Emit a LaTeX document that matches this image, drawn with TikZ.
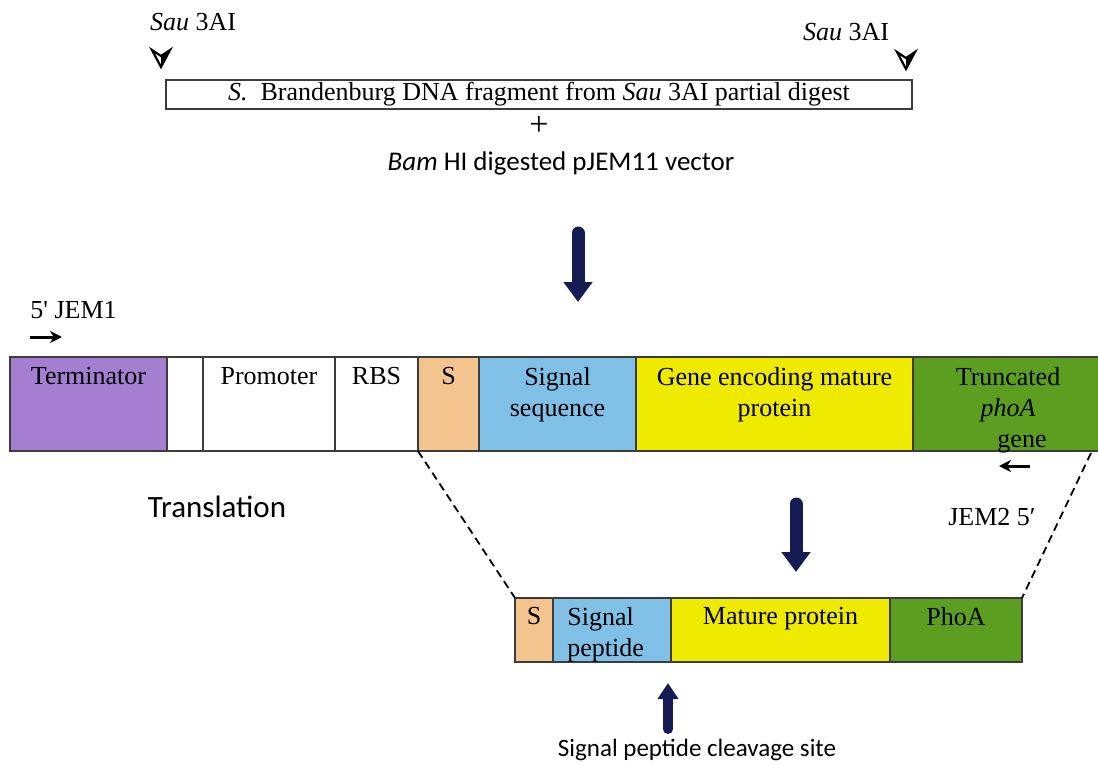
\documentclass[tikz,border=0pt]{standalone}
\usepackage{fontspec}
\setmainfont{Liberation Serif}
\newfontfamily\calfont{Carlito}
\usetikzlibrary{arrows.meta,positioning,calc}

\definecolor{termpurple}{RGB}{164,126,208}
\definecolor{stan}{RGB}{244,196,142}
\definecolor{sigblue}{RGB}{128,192,230}
\definecolor{geneyellow}{RGB}{238,234,0}
\definecolor{phoagreen}{RGB}{92,158,32}
\definecolor{arrownavy}{RGB}{22,27,84}
\definecolor{edgegrey}{RGB}{60,60,60}

\tikzset{
  seg/.style={draw=edgegrey, line width=0.7pt, inner sep=0pt, outer sep=0pt, minimum height=47pt},
  pseg/.style={seg, minimum height=32pt},
  lbl/.style={inner sep=1pt, font=\fontsize{13}{15.5}\selectfont, align=center},
  bigarrow/.style={draw=arrownavy, line width=6.5pt, line cap=round, -{Triangle[width=14pt,length=10pt]}},
  smallarrow/.style={draw=arrownavy, line width=5pt, line cap=round, -{Triangle[width=10pt,length=8pt]}},
  primer/.style={line width=1.5pt, -{Stealth[length=6pt,width=6pt]}},
  cutline/.style={line width=0.9pt, dash pattern=on 4pt off 2.5pt},
  cutsite/.pic={
    \fill (0,-2) -- (9,-8) -- (0,9) -- cycle;
    \draw[line width=1.1pt, line join=miter] (-9,-8) -- (0,9) -- (9,-8) -- (0,-2) -- cycle;
  }
}

\begin{document}
\begin{tikzpicture}[x=0.5pt,y=-0.5pt]
  \useasboundingbox (0,0) rectangle (1098,765);

  % cloned fragment
  \node[lbl] (sau1) at (193,22) {\textit{Sau} 3AI};
  \node[lbl] (sau2) at (846,32) {\textit{Sau} 3AI};
  \pic at (161,58) {cutsite};
  \pic at (906,60) {cutsite};
  \node[draw=edgegrey, line width=0.7pt, minimum width=373pt, minimum height=14.5pt,
        inner sep=0pt, font=\fontsize{13}{15.5}\selectfont] (frag) at (539,94.5)
        {\textit{S.}\ \ Brandenburg DNA fragment from \textit{Sau} 3AI partial digest};
  \node[inner sep=1pt, font=\fontsize{17}{18}\selectfont] (plus) at (539,126) {+};
  \node[inner sep=1pt, font=\calfont\fontsize{13.5}{16}\selectfont] (vec) at (561,163)
        {\textit{Bam} HI digested pJEM11 vector};

  \coordinate (a1s) at (578,233);
  \coordinate (a1e) at (578,302);
  \draw[bigarrow] (a1s) -- (a1e);

  % fusion construct
  \node[seg, fill=termpurple, minimum width=78.5pt, anchor=north west] (term) at (10,357) {};
  \node[seg, fill=white, minimum width=18pt, right=0pt of term] (gap) {};
  \node[seg, fill=white, minimum width=66pt, right=0pt of gap] (prom) {};
  \node[seg, fill=white, minimum width=41.5pt, right=0pt of prom] (rbs) {};
  \node[seg, fill=stan, minimum width=30.5pt, right=0pt of rbs] (sbox) {};
  \node[seg, fill=sigblue, minimum width=78.5pt, right=0pt of sbox] (sigseq) {};
  \node[seg, fill=geneyellow, minimum width=138.5pt, right=0pt of sigseq] (gene) {};
  \node[seg, fill=phoagreen, minimum width=95pt, right=0pt of gene] (phoa) {};

  \node[lbl, below=4pt of term.north] (term-l) {Terminator};
  \node[lbl, below=4pt of prom.north] (prom-l) {Promoter};
  \node[lbl, below=4pt of rbs.north] (rbs-l) {RBS};
  \node[lbl, below=4pt of sbox.north] (sbox-l) {S};
  \node[lbl, below=4pt of sigseq.north] (sigseq-l) {Signal\\sequence};
  \node[lbl, below=4pt of gene.north] (gene-l) {Gene encoding mature\\protein};
  \node[lbl, below=4pt of phoa.north] (phoa-l) {Truncated\\\textit{phoA}\\\hspace*{14pt}gene};

  \node[lbl, anchor=west] (jem1) at (28,310) {5\textquotesingle\ JEM1};
  \coordinate (p1s) at (30,337);
  \coordinate (p1e) at (62,337);
  \draw[primer] (p1s) -- (p1e);

  \node[lbl] (jem2) at (992,517) {JEM2 5′};
  \coordinate (p2s) at (1030,466);
  \coordinate (p2e) at (999,466);
  \draw[primer] (p2s) -- (p2e);

  \node[inner sep=1pt, font=\calfont\fontsize{15.5}{18}\selectfont] (transl) at (217,507) {Translation};

  \coordinate (a2s) at (796,504);
  \coordinate (a2e) at (796,572);
  \draw[bigarrow] (a2s) -- (a2e);

  % fusion protein
  \node[pseg, fill=stan, minimum width=19pt, anchor=north west] (ps) at (515,598) {};
  \node[pseg, fill=sigblue, minimum width=59pt, right=0pt of ps] (pep) {};
  \node[pseg, fill=geneyellow, minimum width=109.5pt, right=0pt of pep] (mat) {};
  \node[pseg, fill=phoagreen, minimum width=66pt, right=0pt of mat] (pho) {};

  \node[lbl, below=3.5pt of ps.north] (ps-l) {S};
  \node[lbl, align=left, below right=3.5pt and 6pt of pep.north west] (pep-l) {Signal\\peptide};
  \node[lbl, below=3.5pt of mat.north] (mat-l) {Mature protein};
  \node[lbl, below=3.5pt of pho.north] (pho-l) {PhoA};

  \coordinate (cutR) at (1091,453);
  \draw[cutline] (sbox.south west) -- (ps.north west);
  \draw[cutline] (cutR) -- (pho.north east);

  \coordinate (a3s) at (668,729);
  \coordinate (a3e) at (668,683);
  \draw[smallarrow] (a3s) -- (a3e);
  \node[inner sep=1pt, font=\calfont\fontsize{12.5}{15}\selectfont] (cleave) at (697,750) {Signal peptide cleavage site};
\end{tikzpicture}
\end{document}
